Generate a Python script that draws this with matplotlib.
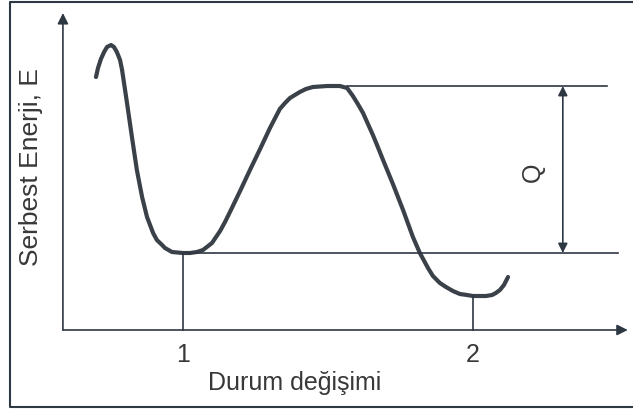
import matplotlib
matplotlib.use("Agg")
import matplotlib.pyplot as plt

plt.rcParams['font.family'] = ['Liberation Sans', 'DejaVu Sans']

# free energy curve along the state coordinate (state 1 at x=1, state 2 at x=2)
curve_x = [0.700, 0.707, 0.717, 0.728, 0.738, 0.752, 0.762, 0.772, 0.783, 0.790,
           0.807, 0.824, 0.841, 0.859, 0.876, 0.897, 0.910, 0.928, 0.938, 0.962,
           1.000, 1.024, 1.048, 1.069, 1.100, 1.128, 1.145, 1.162, 1.197, 1.231,
           1.266, 1.300, 1.334, 1.352, 1.369, 1.386, 1.403, 1.424, 1.448, 1.497,
           1.541, 1.566, 1.586, 1.603, 1.621, 1.638, 1.655, 1.672, 1.690, 1.724,
           1.759, 1.793, 1.817, 1.845, 1.862, 1.886, 1.907, 1.931, 1.955, 1.979,
           2.000, 2.024, 2.045, 2.066, 2.079, 2.093, 2.107, 2.121]
curve_e = [2.53, 2.62, 2.71, 2.78, 2.83, 2.85, 2.83, 2.78, 2.70, 2.60,
           2.27, 1.93, 1.60, 1.33, 1.13, 0.97, 0.90, 0.85, 0.82, 0.78,
           0.77, 0.77, 0.78, 0.80, 0.87, 0.99, 1.08, 1.18, 1.39, 1.60,
           1.81, 2.02, 2.21, 2.27, 2.32, 2.35, 2.38, 2.41, 2.43, 2.44,
           2.44, 2.42, 2.34, 2.26, 2.17, 2.06, 1.95, 1.83, 1.70, 1.46,
           1.20, 0.93, 0.77, 0.62, 0.54, 0.47, 0.43, 0.39, 0.36, 0.35,
           0.34, 0.34, 0.34, 0.35, 0.37, 0.40, 0.45, 0.53]

state_x = [1, 2]
state_labels = ['1', '2']
state_e = [0.77, 0.34]
barrier_e = 2.44

ink = '#2e3843'
curve_col = '#3b4148'
text_col = '#383838'

fig = plt.figure(figsize=(6.33, 4.12), dpi=100)
ax = fig.add_axes([0, 0, 1, 1])
ax.set_xlim(0.369, 2.552)
ax.set_ylim(-0.82, 3.30)
ax.axis('off')

# outer frame (left, top, bottom)
ax.plot([1.0, 0.016, 0.016, 1.0], [0.996, 0.996, 0.012, 0.012],
        transform=ax.transAxes, color=ink, lw=1.5, clip_on=False)

# axes with arrow heads
x0 = 0.586
arrow = dict(arrowstyle='-|>', color=ink, lw=1.2, mutation_scale=16, shrinkA=0, shrinkB=0)
ax.annotate('', xy=(2.534, 0), xytext=(x0, 0), arrowprops=arrow)
ax.annotate('', xy=(x0, 3.17), xytext=(x0, 0), arrowprops=arrow)

# energy curve
ax.plot(curve_x, curve_e, color=curve_col, lw=3, solid_capstyle='round',
        solid_joinstyle='round')

# drop lines from each minimum to the state axis
for sx, se, lab in zip(state_x, state_e, state_labels):
    ax.plot([sx, sx], [0, se], color=ink, lw=1.2)
    ax.text(sx, -0.25, lab, ha='center', va='center', fontsize=18, color=text_col)

# reference levels and the barrier height Q
ax.plot([state_x[0], 2.50], [state_e[0], state_e[0]], color=ink, lw=1.2)
ax.plot([1.566, 2.462], [barrier_e, barrier_e], color=ink, lw=1.2)
ax.annotate('', xy=(2.310, barrier_e), xytext=(2.310, state_e[0]),
            arrowprops=dict(arrowstyle='<|-|>', color=ink, lw=1.2,
                            mutation_scale=14, shrinkA=0, shrinkB=0))
ax.text(2.207, 1.58, 'Q', rotation=90, ha='center', va='center',
        fontsize=18, color=text_col)

ax.text(1.386, -0.53, 'Durum değişimi', ha='center', va='center',
        fontsize=18, color=text_col)
ax.text(0.475, 1.63, 'Serbest Enerji, E', rotation=90, ha='center', va='center',
        fontsize=19, color=text_col)

fig.savefig('out.png', dpi=100)
